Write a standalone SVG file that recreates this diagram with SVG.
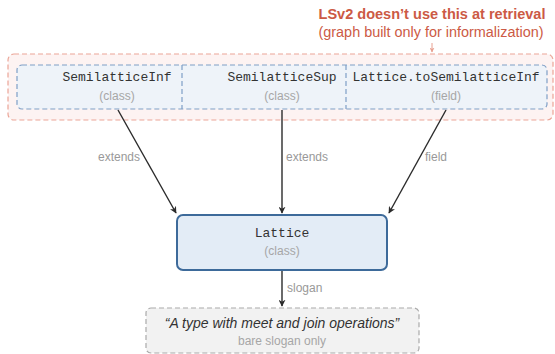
<svg xmlns="http://www.w3.org/2000/svg" width="555" height="354" viewBox="0 0 555 354">
<defs>
<style>
.mono{font-family:"Liberation Mono","DejaVu Sans Mono",monospace;font-size:13px;fill:#333;text-anchor:middle}
.sub{font-family:"Liberation Sans","DejaVu Sans",sans-serif;font-size:12px;fill:#a6a6a6;text-anchor:middle}
.lbl{font-family:"Liberation Sans","DejaVu Sans",sans-serif;font-size:12px;fill:#999}
.edge{stroke:#2b2b2b;stroke-width:1.4;fill:none;marker-end:url(#ah)}
.red{font-family:"Liberation Sans","DejaVu Sans",sans-serif;fill:#cc5a45;text-anchor:middle}
</style>
<marker id="ah" viewBox="0 0 10 10" refX="9" refY="5" markerWidth="7" markerHeight="7" orient="auto" markerUnits="userSpaceOnUse">
<path d="M0,0 L10,5 L0,10 L3,5 z" fill="#2b2b2b"/>
</marker>
<marker id="ahr" viewBox="0 0 10 10" refX="9" refY="5" markerWidth="5" markerHeight="5" orient="auto" markerUnits="userSpaceOnUse">
<path d="M0,0 L10,5 L0,10 L3,5 z" fill="#e8a090"/>
</marker>
</defs>
<g id="note">
<text class="red" x="432" y="19" font-size="15" font-weight="bold" textLength="227" lengthAdjust="spacingAndGlyphs">LSv2 doesn’t use this at retrieval</text>
<text class="red" x="431" y="37" font-size="14" textLength="225" lengthAdjust="spacingAndGlyphs">(graph built only for informalization)</text>
<line x1="432" y1="43" x2="432" y2="52" stroke="#e8a090" stroke-width="1" marker-end="url(#ahr)"/>
</g>
<g id="group">
<rect x="8" y="54" width="545" height="66" rx="6" fill="#fdf3f2" stroke="#eba597" stroke-width="1.2" stroke-dasharray="5,3"/>
<rect x="17" y="65" width="530" height="44" rx="5" fill="#eef3f9" stroke="#7f9fc6" stroke-width="1.2" stroke-dasharray="5,3"/>
<line x1="182" y1="65" x2="182" y2="109" stroke="#7f9fc6" stroke-width="1.2" stroke-dasharray="5,3"/>
<line x1="346" y1="65" x2="346" y2="109" stroke="#7f9fc6" stroke-width="1.2" stroke-dasharray="5,3"/>
</g>
<g id="n-semilatticeinf">
<text class="mono" x="117" y="81">SemilatticeInf</text>
<text class="sub" x="117" y="100">(class)</text>
</g>
<g id="n-semilatticesup">
<text class="mono" x="282" y="81">SemilatticeSup</text>
<text class="sub" x="282" y="100">(class)</text>
</g>
<g id="n-tosemilatticeinf">
<text class="mono" x="446" y="81">Lattice.toSemilatticeInf</text>
<text class="sub" x="446" y="100">(field)</text>
</g>
<g id="edges">
<line class="edge" x1="118" y1="110" x2="176" y2="213"/>
<line class="edge" x1="282" y1="110" x2="282" y2="213"/>
<line class="edge" x1="446" y1="110" x2="389" y2="213"/>
<line class="edge" x1="282" y1="271" x2="282" y2="306"/>
<text class="lbl" x="140" y="161" text-anchor="end">extends</text>
<text class="lbl" x="286" y="161">extends</text>
<text class="lbl" x="425" y="161">field</text>
<text class="lbl" x="287" y="292">slogan</text>
</g>
<g id="n-lattice">
<rect x="177" y="215" width="210" height="55" rx="6" fill="#e3ecf6" stroke="#3d6a9a" stroke-width="2"/>
<text class="mono" x="282" y="237" font-size="14">Lattice</text>
<text class="sub" x="282" y="255">(class)</text>
</g>
<g id="n-slogan">
<rect x="146" y="308" width="273" height="45" rx="5" fill="#f2f2f2" stroke="#aaaaaa" stroke-width="1.2" stroke-dasharray="5,3"/>
<text x="282" y="328" text-anchor="middle" font-family="Liberation Sans, DejaVu Sans, sans-serif" font-size="14" font-style="italic" fill="#333">“A type with meet and join operations”</text>
<text class="sub" x="282" y="345">bare slogan only</text>
</g>
</svg>
